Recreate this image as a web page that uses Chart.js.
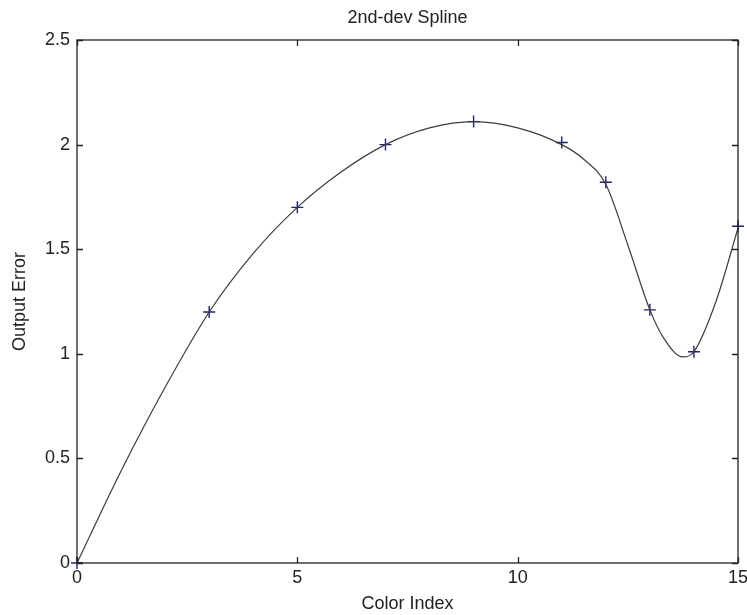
<!DOCTYPE html>
<html>
<head>
<meta charset="utf-8">
<title>2nd-dev Spline</title>
<script src="https://cdn.jsdelivr.net/npm/chart.js@4"></script>
<style>
  html, body { margin: 0; padding: 0; background: #fff; }
  #wrap { width: 747px; height: 615px; }
</style>
</head>
<body>
<div id="wrap"><canvas id="chart" width="747" height="615"></canvas></div>
<script>
// knots (the + markers)
const knotX = [0, 3, 5, 7, 9, 11, 12, 13, 14, 15];
const knotY = [0, 1.2, 1.7, 2.0, 2.11, 2.01, 1.82, 1.21, 1.01, 1.61];

// spline curve
const curveX = [0, 1, 2, 3, 4, 5, 6, 7, 8, 9, 10, 11, 11.5, 12, 12.5, 13, 13.3, 13.75, 14, 14.5, 15];
const curveY = [0, 0.44, 0.84, 1.2, 1.48, 1.7, 1.87, 2.0, 2.08, 2.11, 2.08, 2.0, 1.93, 1.81, 1.52, 1.21, 1.08, 0.985, 1.01, 1.25, 1.6];

const xTicks = [0, 5, 10, 15];
const yTicks = [0, 0.5, 1, 1.5, 2, 2.5];

const FONT = "'Liberation Sans', Arial, Helvetica, sans-serif";
const INK = '#222';

// MATLAB style box with inward ticks on all sides
const boxPlugin = {
  id: 'box',
  afterDraw(chart) {
    const { ctx, chartArea: a, scales } = chart;
    const len = 6;
    ctx.save();
    ctx.strokeStyle = INK;
    ctx.lineWidth = 1.3;
    ctx.strokeRect(a.left, a.top, a.right - a.left, a.bottom - a.top);
    ctx.beginPath();
    xTicks.forEach(v => {
      const px = Math.round(scales.x.getPixelForValue(v)) + 0.5;
      ctx.moveTo(px, a.bottom); ctx.lineTo(px, a.bottom - len);
      ctx.moveTo(px, a.top); ctx.lineTo(px, a.top + len);
    });
    yTicks.forEach(v => {
      const py = Math.round(scales.y.getPixelForValue(v)) + 0.5;
      ctx.moveTo(a.left, py); ctx.lineTo(a.left + len, py);
      ctx.moveTo(a.right, py); ctx.lineTo(a.right - len, py);
    });
    ctx.stroke();
    ctx.restore();
  }
};

new Chart(document.getElementById('chart').getContext('2d'), {
  type: 'line',
  data: {
    datasets: [
      {
        label: 'spline',
        data: curveX.map((x, i) => ({ x, y: curveY[i] })),
        borderColor: '#3b3d38',
        borderWidth: 1.2,
        pointRadius: 0,
        cubicInterpolationMode: 'monotone',
        fill: false
      },
      {
        label: 'knots',
        data: knotX.map((x, i) => ({ x, y: knotY[i] })),
        showLine: false,
        pointStyle: 'cross',
        pointRadius: 6,
        pointBorderWidth: 1.4,
        pointBorderColor: '#1f2378',
        clip: false
      }
    ]
  },
  options: {
    responsive: false,
    animation: false,
    layout: { padding: { top: 0, right: 9, bottom: 0, left: 0 } },
    plugins: {
      legend: { display: false },
      tooltip: { enabled: false },
      title: {
        display: true,
        fullSize: false,
        text: '2nd-dev Spline',
        color: INK,
        font: { family: FONT, size: 18, weight: 'normal' },
        padding: { top: 7, bottom: 11.4 }
      }
    },
    scales: {
      x: {
        type: 'linear',
        min: 0,
        max: 15,
        grid: { display: false, drawTicks: false },
        border: { display: false },
        afterBuildTicks: s => { s.ticks = xTicks.map(v => ({ value: v })); },
        afterFit: s => { s.height = 52; s.paddingLeft = 0; s.paddingRight = 0; },
        ticks: {
          color: INK,
          padding: 4,
          maxRotation: 0,
          font: { family: FONT, size: 18 },
          callback: v => String(v)
        },
        title: {
          display: true,
          text: 'Color Index',
          color: INK,
          font: { family: FONT, size: 18 },
          padding: { top: 0, bottom: 0 }
        }
      },
      y: {
        type: 'linear',
        min: 0,
        max: 2.5,
        grid: { display: false, drawTicks: false },
        border: { display: false },
        afterBuildTicks: s => { s.ticks = yTicks.map(v => ({ value: v })); },
        afterFit: s => { s.width = 77; s.paddingTop = 0; s.paddingBottom = 0; },
        ticks: {
          color: INK,
          padding: 7,
          font: { family: FONT, size: 18 },
          callback: v => String(v)
        },
        title: {
          display: true,
          text: 'Output Error',
          color: INK,
          font: { family: FONT, size: 18 },
          padding: { top: 9, bottom: 0 }
        }
      }
    }
  },
  plugins: [boxPlugin]
});
</script>
</body>
</html>
